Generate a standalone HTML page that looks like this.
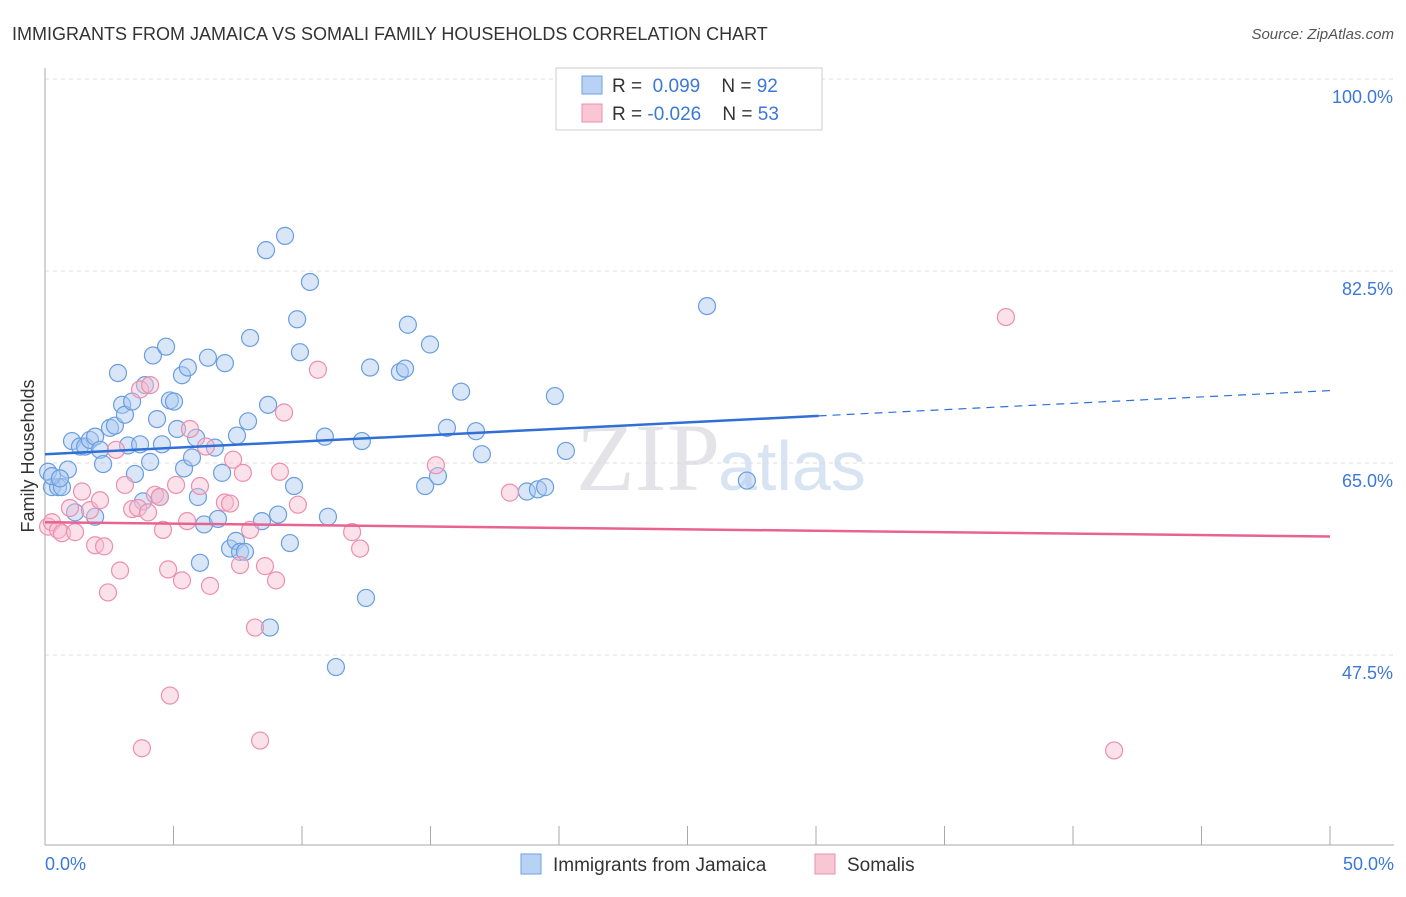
<!DOCTYPE html>
<html><head><meta charset="utf-8"><style>
body{margin:0;background:#fff;font-family:"Liberation Sans",sans-serif}
</style></head><body>
<svg id="chart" width="1406" height="892" xmlns="http://www.w3.org/2000/svg" font-family="Liberation Sans, sans-serif">
<text x="12" y="40" font-size="18" fill="#333">IMMIGRANTS FROM JAMAICA VS SOMALI FAMILY HOUSEHOLDS CORRELATION CHART</text>
<text x="1394" y="39" font-size="15" fill="#555" font-style="italic" text-anchor="end">Source: ZipAtlas.com</text>
<text x="720" y="490" font-size="96" fill="#e4e4e8" text-anchor="end" font-family="Liberation Serif, serif">ZIP</text>
<text x="718" y="490" font-size="70" fill="#d8e4f2">atlas</text>
<g id="grid"></g>
<g id="axes"></g>
<g id="marks"></g>
<text transform="translate(34,456) rotate(-90)" font-size="18" fill="#333" text-anchor="middle">Family Households</text>
<g>
<rect x="556" y="68" width="266" height="62" fill="#fff" stroke="#ccc"/>
<rect x="582" y="76" width="20" height="18" fill="#b8d2f5" stroke="#6fa0e0"/>
<rect x="582" y="104" width="20" height="18" fill="#f9c6d6" stroke="#ec8fae"/>
<text x="612" y="92" font-size="19" fill="#333">R = <tspan fill="#3b78d8">&#160;0.099</tspan>&#160;&#160;&#160;&#160;N = <tspan fill="#3b78d8">92</tspan></text>
<text x="612" y="120" font-size="19" fill="#333">R = <tspan fill="#3b78d8">-0.026</tspan>&#160;&#160;&#160;&#160;N = <tspan fill="#3b78d8">53</tspan></text>
</g>
<g>
<rect x="521" y="854" width="20" height="20" fill="#b8d2f5" stroke="#6fa0e0"/>
<text x="553" y="871" font-size="19" fill="#333">Immigrants from Jamaica</text>
<rect x="815" y="854" width="20" height="20" fill="#f9c6d6" stroke="#ec8fae"/>
<text x="847" y="871" font-size="19" fill="#333">Somalis</text>
</g>
</svg>
<script>
const blueX=[0.12,0.27,0.51,0.66,0.89,1.05,1.36,1.56,1.75,1.95,2.14,2.26,1.95,1.17,2.53,2.72,2.84,3.00,3.11,3.23,3.39,3.50,3.70,3.81,3.89,4.09,4.20,4.36,4.47,4.55,4.71,4.86,5.02,5.14,5.33,5.41,5.56,5.72,5.88,5.95,6.03,6.19,6.34,6.61,6.73,6.89,7.00,7.20,7.43,7.47,7.59,7.78,7.90,7.98,8.44,8.60,8.68,8.75,9.07,9.34,9.53,9.69,9.81,9.92,10.31,10.89,11.01,11.32,12.33,12.49,12.65,13.81,14.01,14.12,14.79,14.98,15.29,15.64,16.19,16.77,17.00,18.75,19.18,19.46,19.84,20.27,25.76,27.31,0.27,0.58];
const blueY=[64.2,62.8,62.8,62.8,64.4,67.0,66.5,66.5,67.1,67.4,66.2,64.9,60.1,60.5,68.2,68.4,73.2,70.3,69.4,66.6,70.6,64.0,66.7,61.5,72.1,65.1,74.8,69.0,61.9,66.7,75.6,70.7,70.6,68.1,73.0,64.5,73.7,65.5,67.3,61.9,55.9,59.4,74.6,66.4,59.9,64.1,74.1,57.2,57.9,67.5,56.9,56.9,68.8,76.4,59.7,84.4,70.3,50.0,60.3,85.7,57.7,62.9,78.1,75.1,81.5,67.4,60.1,46.4,67.0,52.7,73.7,73.3,73.6,77.6,62.9,75.8,63.8,68.2,71.5,67.9,65.8,62.4,62.6,62.8,71.1,66.1,79.3,63.4,63.8,63.6];
const pinkX=[0.12,0.27,0.51,0.66,0.97,1.17,1.44,1.75,1.95,2.14,2.30,2.45,2.76,2.92,3.11,3.39,3.62,3.70,3.77,4.01,4.09,4.28,4.47,4.59,4.79,4.86,5.10,5.33,5.53,5.64,6.03,6.26,6.42,7.00,7.20,7.32,7.59,7.70,7.98,8.17,8.37,8.56,8.99,9.14,9.30,9.84,10.62,11.95,12.26,15.21,18.09,37.39,41.60];
const pinkY=[59.2,59.6,58.9,58.6,60.9,58.7,62.4,60.7,57.5,61.6,57.4,53.2,66.2,55.2,63.0,60.8,60.9,71.7,39.0,60.5,72.1,62.1,61.9,58.9,55.3,43.8,63.0,54.3,59.7,68.1,62.9,66.5,53.8,61.4,61.3,65.3,55.7,64.1,58.9,50.0,39.7,55.6,54.3,64.2,69.6,61.2,73.5,58.7,57.2,64.8,62.3,78.3,38.8];
const blueTrend=[65.8,71.6];
const pinkTrend=[59.6,58.3];
const yTicks=[100,82.5,65,47.5];
const yTickLabels=["100.0%","82.5%","65.0%","47.5%"];
const xTicks=[0,5,10,15,20,25,30,35,40,45,50];
const xEndLabels=["0.0%","50.0%"];

const NS="http://www.w3.org/2000/svg";
const X=v=>45+v/50*1285;
const Y=v=>79+(100-v)*10.971;
function mk(parent,tag,attrs){const e=document.createElementNS(NS,tag);for(const k in attrs)e.setAttribute(k,attrs[k]);document.getElementById(parent).appendChild(e);return e;}
yTicks.forEach((t,i)=>{
  const l=mk('grid','line',{x1:45,x2:1394,y1:Y(t),y2:Y(t),stroke:'#ddd','stroke-dasharray':'4,4'});
  
  
  const tx=mk('axes','text',{x:1393,y:Y(t)+24,'font-size':18,fill:'#3b78d8','text-anchor':'end'});
  tx.textContent=yTickLabels[i];
  
  
});
const ax=mk('axes','line',{x1:45,x2:45,y1:68,y2:845,stroke:'#aaa'});


const bx=mk('axes','line',{x1:45,x2:1394,y1:845,y2:845,stroke:'#aaa'});


xTicks.forEach(t=>{
  const l=mk('axes','line',{x1:X(t),x2:X(t),y1:826,y2:845,stroke:'#aaa'});
  
  
});
[[0,'start',45],[1,'end',1394]].forEach(([i,a,x])=>{
  const t=mk('axes','text',{x:x,y:870,'font-size':18,fill:'#3b78d8','text-anchor':a});
  t.textContent=xEndLabels[i];
  
  
});
function dots(xs,ys,fill,stroke,name){
  xs.forEach((x,i)=>{
    const c=mk('marks','circle',{cx:X(x),cy:Y(ys[i]),r:8.5,fill:fill,'fill-opacity':0.45,stroke:stroke,'stroke-width':1.2});
    
    
  });
}
dots(blueX,blueY,'#a9c8f0','#6a9ee0','jamaica-point');
dots(pinkX,pinkY,'#f7bcd0','#ec8fae','somali-point');
const bAt=x=>blueTrend[0]+(blueTrend[1]-blueTrend[0])*x/50;
const t1=mk('marks','line',{x1:X(0),y1:Y(bAt(0)),x2:X(30.1),y2:Y(bAt(30.1)),stroke:'#2f6fd6','stroke-width':2.5});


const t2=mk('marks','line',{x1:X(30.1),y1:Y(bAt(30.1)),x2:X(50),y2:Y(bAt(50)),stroke:'#2f6fd6','stroke-width':1.2,'stroke-dasharray':'8,6'});


const t3=mk('marks','line',{x1:X(0),y1:Y(pinkTrend[0]),x2:X(50),y2:Y(pinkTrend[1]),stroke:'#e8638f','stroke-width':2.5});


</script>
</body></html>
